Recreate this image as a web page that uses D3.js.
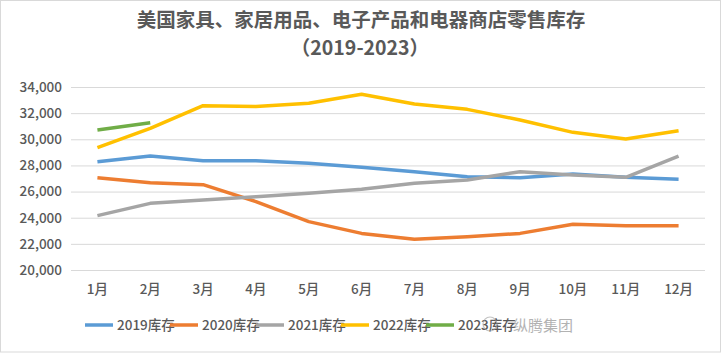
<!DOCTYPE html>
<html><head><meta charset="utf-8">
<script src="https://cdn.jsdelivr.net/npm/d3@7"></script>
<style>
html,body{margin:0;padding:0;background:#fff;}
svg{display:block;}
</style></head>
<body>
<div id="chart"></div>
<script>
const months = ["1月","2月","3月","4月","5月","6月","7月","8月","9月","10月","11月","12月"];
const yTicks = [20000,22000,24000,26000,28000,30000,32000,34000];
const s2019 = [28285,28720,28360,28360,28160,27860,27520,27140,27060,27340,27090,26940];
const s2020 = [27060,26680,26530,25230,23700,22800,22350,22550,22800,23500,23390,23390];
const s2021 = [24160,25100,25360,25610,25870,26170,26630,26890,27520,27270,27090,28720];
const s2022 = [29360,30840,32570,32500,32750,33440,32700,32290,31480,30530,30020,30660];
const s2023 = [30710,31270];
const seriesNames = ["2019库存","2020库存","2021库存","2022库存","2023库存"];
const colors = ["#5B9BD5","#ED7D31","#A5A5A5","#FFC000","#70AD47"];
const seriesData = [s2019,s2020,s2021,s2022,s2023];

const W=724,H=353;
const font = "'Noto Sans CJK SC','Noto Sans',sans-serif";
const svg = d3.select("#chart").append("svg").attr("width",W).attr("height",H);
svg.append("rect").attr("x",0.5).attr("y",0.5).attr("width",W-4).attr("height",H-1.5)
  .attr("fill","#fff").attr("stroke","#D9D9D9");

const x = d3.scaleBand().domain(months).range([71,705]);
const y = d3.scaleLinear().domain([20000,34000]).range([270,87]);

const title = svg.append("text").attr("text-anchor","middle")
  .attr("font-family",font).attr("font-size",19.5).attr("font-weight","bold").attr("fill","#595959");
title.append("tspan").attr("x",361).attr("y",27).text("美国家具、家居用品、电子产品和电器商店零售库存");
title.append("tspan").attr("x",360).attr("y",55).text("（2019-2023）");

// grid
const yAxis = d3.axisLeft(y).tickValues(yTicks).tickSize(-(705-71)).tickPadding(9)
  .tickFormat(d3.format(","));
const gy = svg.append("g").attr("transform","translate(71,0)").call(yAxis);
gy.select(".domain").remove();
gy.selectAll(".tick line").attr("stroke","#D9D9D9").attr("stroke-width",1);
gy.selectAll(".tick text").attr("font-family",font).attr("font-size",13.5).attr("font-weight",500)
  .attr("fill","#595959");

const xAxis = d3.axisBottom(x).tickSize(0).tickPadding(14);
const gx = svg.append("g").attr("transform","translate(0,270)").call(xAxis);
gx.select(".domain").remove();
gx.selectAll(".tick text").attr("font-family",font).attr("font-size",13.5).attr("font-weight",500)
  .attr("fill","#595959");

const line = d3.line().x((d,i)=>x(months[i])+x.bandwidth()/2).y(d=>y(d));
seriesData.forEach((s,k)=>{
  svg.append("path").datum(s).attr("d",line).attr("fill","none")
    .attr("stroke",colors[k]).attr("stroke-width",3.5).attr("stroke-linejoin","round");
});

// legend
const legX = [85,170,256,341,426];
seriesNames.forEach((n,k)=>{
  const g = svg.append("g").attr("transform",`translate(${legX[k]},325)`);
  g.append("line").attr("x1",0).attr("x2",28).attr("y1",0).attr("y2",0)
    .attr("stroke",colors[k]).attr("stroke-width",3.5);
  g.append("text").attr("x",32).attr("y",5).attr("font-family",font).attr("font-size",13.5)
    .attr("font-weight",500).attr("fill","#595959").text(n);
});

// watermark
svg.append("circle").attr("cx",490).attr("cy",324).attr("r",7).attr("fill","none")
  .attr("stroke","#9a9a9a").attr("stroke-width",1.2).attr("opacity",0.6);
svg.append("text").attr("x",513).attr("y",331).attr("font-family",font).attr("font-size",15)
  .attr("fill","#7f7f7f").attr("opacity",0.6).text("纵腾集团");
</script>
</body></html>
